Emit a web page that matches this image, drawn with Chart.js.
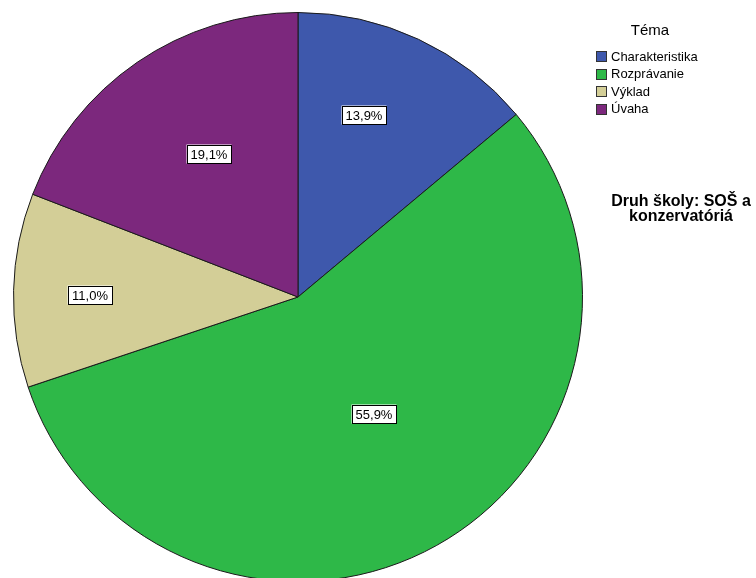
<!DOCTYPE html>
<html>
<head>
<meta charset="utf-8">
<script src="https://cdn.jsdelivr.net/npm/chart.js@4/dist/chart.umd.min.js"></script>
<style>
  html, body { margin: 0; padding: 0; background: #fff; overflow: hidden; }
  #wrap { position: relative; width: 756px; height: 578px; overflow: hidden; }
  #chart { position: absolute; left: 0; top: 0; }
</style>
</head>
<body>
<div id="wrap"><canvas id="chart" width="756" height="600"></canvas></div>
<script>
// data
var categories = ['Charakteristika', 'Rozprávanie', 'Výklad', 'Úvaha'];
var percents = [13.9, 55.9, 11.0, 19.1];
var sliceColors = ['#3E58AC', '#2EB848', '#D3CE97', '#7C287D'];
var legendTitle = 'Téma';
var panelTitle = ['Druh školy: SOŠ a', 'konzervatóriá'];

// where the value boxes sit inside each slice: [fraction of slice angle, fraction of radius]
var labelAnchor = [[0.40, 0.68], [0.48, 0.49], [0.48, 0.73], [0.537, 0.59]];

var FONT = '"Liberation Sans", Arial, sans-serif';

function fmt(v) {
  return v.toFixed(1).replace('.', ',') + '%';
}

var valueBoxes = {
  id: 'valueBoxes',
  afterDatasetsDraw: function (chart) {
    var c = chart.ctx;
    var arcs = chart.getDatasetMeta(0).data;
    c.save();
    c.font = '13px ' + FONT;
    c.textAlign = 'center';
    c.textBaseline = 'middle';
    arcs.forEach(function (arc, i) {
      var a = arc.startAngle + (arc.endAngle - arc.startAngle) * labelAnchor[i][0];
      var r = arc.outerRadius * labelAnchor[i][1];
      var x = Math.round(arc.x + Math.cos(a) * r);
      var y = Math.round(arc.y + Math.sin(a) * r);
      var w = 45, h = 19;
      c.fillStyle = '#fff';
      c.fillRect(x - w / 2, y - h / 2, w, h);
      c.strokeStyle = '#000';
      c.lineWidth = 1;
      c.strokeRect(Math.round(x - w / 2) + 0.5, Math.round(y - h / 2) + 0.5, w - 1, h - 1);
      c.fillStyle = '#000';
      c.fillText(fmt(percents[i]), x, y + 1);
    });
    c.restore();
  }
};

var sideText = {
  id: 'sideText',
  afterDraw: function (chart) {
    var c = chart.ctx;
    c.save();
    // legend
    c.fillStyle = '#000';
    c.font = '15px ' + FONT;
    c.textAlign = 'center';
    c.textBaseline = 'middle';
    c.fillText(legendTitle, 650, 31);
    c.font = '13px ' + FONT;
    c.textAlign = 'left';
    categories.forEach(function (name, i) {
      var y = 56 + i * 17.5;
      c.fillStyle = sliceColors[i];
      c.fillRect(596, Math.round(y) - 5, 11, 11);
      c.strokeStyle = '#333';
      c.lineWidth = 1;
      c.strokeRect(596.5, Math.round(y) - 4.5, 10, 10);
      c.fillStyle = '#000';
      c.fillText(name, 611, y + 1);
    });
    // panel title
    c.font = 'bold 16px ' + FONT;
    c.textAlign = 'center';
    c.fillText(panelTitle[0], 681, 202);
    c.fillText(panelTitle[1], 681, 217);
    c.restore();
  }
};

var ctx = document.getElementById('chart').getContext('2d');
var chart = new Chart(ctx, {
  type: 'pie',
  data: {
    labels: categories,
    datasets: [{
      data: percents,
      backgroundColor: sliceColors,
      borderColor: '#1a1a1a',
      borderWidth: 1
    }]
  },
  options: {
    responsive: false,
    animation: false,
    layout: { padding: { left: 13, right: 173, top: 12, bottom: 18 } },
    plugins: {
      legend: { display: false },
      tooltip: { enabled: false }
    }
  },
  plugins: [valueBoxes, sideText]
});
</script>
</body>
</html>
